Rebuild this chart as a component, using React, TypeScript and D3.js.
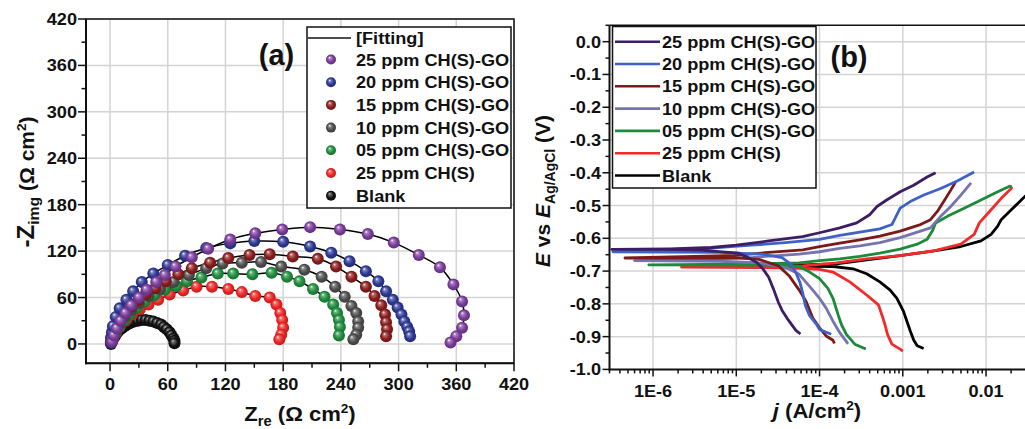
import React from "react";
import * as d3 from "d3";

// ---------- Panel (a) Nyquist data [Zre, -Zimg] ----------
const nyqPurple = [[2,3],[4,11],[7,20],[11,30],[16,40],[22,50],[30,60],[38,70],[48,80],[57,89],[68,100],[85,112],[102,123],[125,135],[151,143],[179,148],[208,151],[239,148],[268,142],[295,131],[321,115],[343,99],[357,77],[366,55],[368,37],[366,21],[360,10],[354,2]];
const nyqBlue = [[1,2],[1,8],[2,15],[3,23],[6,35],[10,46],[17,57],[24,68],[33,80],[45,91],[60,102],[78,114],[100,124],[125,130],[150,133],[180,132],[208,126],[230,118],[249,107],[266,94],[279,81],[287,68],[294,57],[299,47],[303,38],[306,29],[309,22],[311,16],[312,10]];
const nyqDarkRed = [[1,2],[2,8],[4,15],[7,23],[11,31],[16,40],[22,48],[29,56],[37,64],[47,72],[58,81],[71,90],[85,98],[104,105],[123,111],[145,115],[166,116],[190,113],[216,110],[235,100],[251,87],[266,74],[275,62],[282,50],[286,38],[287,28],[288,19],[287,10]];
const nyqGray = [[1,2],[3,9],[6,17],[10,26],[15,35],[22,44],[30,53],[40,62],[52,71],[66,80],[82,89],[100,98],[117,104],[137,105],[157,106],[178,100],[202,96],[220,87],[234,74],[244,61],[251,49],[256,40],[258,29],[258,21],[256,12],[253,6]];
const nyqGreen = [[1,2],[3,8],[6,15],[10,23],[15,31],[21,39],[28,47],[36,55],[46,63],[57,70],[69,75],[80,81],[95,86],[112,91],[128,91],[148,90],[168,92],[184,87],[197,81],[211,71],[223,61],[232,51],[236,40],[238,31],[239,22],[238,11]];
const nyqRed = [[1,2],[3,7],[6,14],[10,22],[16,30],[23,38],[31,45],[40,51],[50,57],[62,64],[76,69],[90,74],[106,74],[123,71],[137,67],[151,62],[166,60],[173,51],[177,40],[179,31],[180,21],[178,12],[176,6]];
const nyqBlank = [[1,0],[2,3],[3,6],[5,10],[7,14],[9,17],[12,20],[15,23],[18,25],[21,27],[25,29],[29,30],[33,31],[37,31],[41,30],[45,29],[49,27],[53,25],[56,22],[59,19],[62,15],[64,11],[66,7],[67,4],[67,1]];

// ---------- Panel (b) Tafel data [j (A/cm2), E (V)] ----------
const tafPurple = [[5.9e-5,-0.892],[5.2e-5,-0.881],[4.1e-5,-0.845],[3.55e-5,-0.82],[3.2e-5,-0.795],[2.8e-5,-0.755],[2.45e-5,-0.719],[2.1e-5,-0.694],[1.76e-5,-0.674],[1.39e-5,-0.659],[1.05e-5,-0.645],[3.7e-6,-0.636],[1.45e-6,-0.634],[3.2e-7,-0.634],[1.6e-6,-0.632],[5e-6,-0.628],[1e-5,-0.621],[2.45e-5,-0.608],[6.25e-5,-0.595],[1e-4,-0.583],[1.75e-4,-0.568],[2.8e-4,-0.553],[4.0e-4,-0.528],[4.9e-4,-0.503],[6.4e-4,-0.483],[9.3e-4,-0.458],[1.35e-3,-0.438],[1.96e-3,-0.413],[2.48e-3,-0.4]];
const tafBlue = [[1.38e-4,-0.893],[1e-4,-0.878],[9.1e-5,-0.861],[7.55e-5,-0.835],[6.75e-5,-0.805],[6.25e-5,-0.765],[5.8e-5,-0.734],[5.2e-5,-0.704],[4.5e-5,-0.679],[3.55e-5,-0.659],[2e-5,-0.648],[6.3e-6,-0.643],[3.3e-7,-0.641],[3.2e-6,-0.635],[6e-6,-0.628],[1.53e-5,-0.621],[3.9e-5,-0.613],[1e-4,-0.603],[1.75e-4,-0.591],[3.05e-4,-0.581],[5.3e-4,-0.571],[7.4e-4,-0.558],[8.5e-4,-0.528],[9.3e-4,-0.508],[1.23e-3,-0.488],[1.79e-3,-0.468],[2.85e-3,-0.448],[4.5e-3,-0.425],[7.2e-3,-0.398]];
const tafDarkRed = [[1.51e-4,-0.921],[1.45e-4,-0.911],[1.2e-4,-0.898],[1e-4,-0.873],[8.3e-5,-0.843],[6.9e-5,-0.793],[5.7e-5,-0.758],[4.3e-5,-0.714],[3.2e-5,-0.684],[1.86e-5,-0.664],[1e-5,-0.66],[4.6e-7,-0.66],[3.2e-6,-0.655],[9.5e-6,-0.652],[2.45e-5,-0.643],[6.3e-5,-0.635],[1e-4,-0.625],[1.75e-4,-0.615],[3.05e-4,-0.605],[5.3e-4,-0.593],[9.3e-4,-0.578],[1.63e-3,-0.558],[2.15e-3,-0.543],[2.6e-3,-0.518],[3.1e-3,-0.488],[3.77e-3,-0.453],[4.3e-3,-0.428]];
const tafSlate = [[2.2e-4,-0.922],[1.75e-4,-0.888],[1.45e-4,-0.853],[1.2e-4,-0.813],[1e-4,-0.783],[8.3e-5,-0.758],[5.7e-5,-0.71],[4e-5,-0.69],[2e-5,-0.675],[6.3e-6,-0.67],[6e-7,-0.668],[3.2e-6,-0.664],[1.6e-5,-0.658],[5.7e-5,-0.648],[1e-4,-0.641],[1.75e-4,-0.631],[3.05e-4,-0.623],[5.3e-4,-0.613],[9.3e-4,-0.598],[1.63e-3,-0.578],[2.15e-3,-0.568],[2.85e-3,-0.533],[3.77e-3,-0.503],[4.98e-3,-0.468],[6.6e-3,-0.431]];
const tafGreen = [[3.6e-4,-0.938],[2.65e-4,-0.923],[2.1e-4,-0.893],[1.83e-4,-0.863],[1.67e-4,-0.833],[1.45e-4,-0.783],[1.26e-4,-0.753],[1e-4,-0.723],[7.6e-5,-0.703],[5.7e-5,-0.686],[2.5e-5,-0.682],[8.9e-7,-0.681],[1e-5,-0.679],[5.7e-5,-0.675],[1e-4,-0.668],[1.75e-4,-0.663],[3.05e-4,-0.655],[5.3e-4,-0.645],[9.3e-4,-0.633],[1.49e-3,-0.618],[1.96e-3,-0.603],[2.26e-3,-0.578],[2.48e-3,-0.553],[3.43e-3,-0.533],[5.46e-3,-0.508],[8.7e-3,-0.483],[1.38e-2,-0.458],[1.92e-2,-0.441],[2.04e-2,-0.443]];
const tafRed = [[1e-3,-0.944],[9.3e-4,-0.938],[7.4e-4,-0.923],[6.55e-4,-0.893],[6.1e-4,-0.863],[5.6e-4,-0.833],[5.1e-4,-0.803],[3.68e-4,-0.773],[2.31e-4,-0.733],[1.45e-4,-0.703],[1e-4,-0.695],[5.7e-5,-0.692],[1.6e-5,-0.689],[2.2e-6,-0.688],[1.6e-5,-0.686],[6.3e-5,-0.684],[1.6e-4,-0.675],[3.68e-4,-0.663],[9.3e-4,-0.653],[2.37e-3,-0.638],[4.98e-3,-0.618],[7.2e-3,-0.588],[8.3e-3,-0.553],[1.15e-2,-0.513],[1.52e-2,-0.478],[2.01e-2,-0.448],[2.04e-2,-0.443]];
const tafBlank = [[1.78e-3,-0.936],[1.49e-3,-0.928],[1.35e-3,-0.91],[1.23e-3,-0.883],[1.12e-3,-0.853],[1.02e-3,-0.823],[8.5e-4,-0.783],[7.05e-4,-0.758],[5.3e-4,-0.733],[3.68e-4,-0.708],[2.53e-4,-0.693],[1.45e-4,-0.686],[2.5e-5,-0.684],[1.6e-4,-0.678],[3.68e-4,-0.666],[9.3e-4,-0.653],[2.37e-3,-0.638],[4.98e-3,-0.625],[8.7e-3,-0.608],[1.15e-2,-0.588],[1.38e-2,-0.563],[1.52e-2,-0.543],[2.01e-2,-0.513],[2.65e-2,-0.483],[3.05e-2,-0.468],[4e-2,-0.44]];

const labels = ["25 ppm CH(S)-GO","20 ppm CH(S)-GO","15 ppm CH(S)-GO","10 ppm CH(S)-GO","05 ppm CH(S)-GO","25 ppm CH(S)","Blank"];
const colorsA = ["#7a3b9b","#2c3794","#8a1c1c","#4d4d4d","#1e8c3c","#ee2424","#111111"];
const colorsB = ["#3d1d63","#3f62c6","#7b1a1a","#7474b2","#1d8a3a","#f42a2a","#000000"];
const dataA = [nyqPurple,nyqBlue,nyqDarkRed,nyqGray,nyqGreen,nyqRed,nyqBlank];
const dataB = [tafPurple,tafBlue,tafDarkRed,tafSlate,tafGreen,tafRed,tafBlank];

const xTicksA = [0,60,120,180,240,300,360,420];
const yTicksA = [0,60,120,180,240,300,360,420];
const xTicksB = [1e-6,1e-5,1e-4,1e-3,1e-2];
const xTickLabelsB = ["1E-6","1E-5","1E-4","0.001","0.01"];
const yTicksB = [0,-0.1,-0.2,-0.3,-0.4,-0.5,-0.6,-0.7,-0.8,-0.9,-1.0];

const FONT = "'Liberation Sans', Arial, sans-serif";

function T({x,y,anchor="start",size=16.5,sx=1.1,rot=0,children,style}:any){
  return <text transform={`translate(${x},${y}) rotate(${rot}) scale(${sx},1)`} textAnchor={anchor}
    fontSize={size} fontWeight="bold" fontFamily={FONT} fill="#111" style={style}>{children}</text>;
}

function shade(c:string,k:number){ return d3.color(c)!.darker(k).formatHex(); }
function light(c:string,k:number){ return d3.interpolateRgb(c,"#ffffff")(k); }

export default function App(){
  // panel a scales
  const xA = d3.scaleLinear().domain([-25,420]).range([86,514]);
  const yA = d3.scaleLinear().domain([-25,420]).range([363.3,19]);
  // panel b scales
  const xB = d3.scaleLog().domain([3e-7,0.1]).range([609.5,1069.3]);
  const yB = d3.scaleLinear().domain([-1.0,0.05]).range([369.4,25.3]);

  const lineA = d3.line<number[]>().x(d=>xA(d[0])).y(d=>yA(d[1])).curve(d3.curveCatmullRom.alpha(0.5));
  const lineB = d3.line<number[]>().x(d=>xB(d[0])).y(d=>yB(d[1]));

  const minorA = d3.range(0,421,30);
  const minorYB = d3.range(-1.0,0.051,0.05);
  const minorXB:number[] = [];
  for (let e=-7;e<=-2;e++) for (let m=1;m<=9;m++){ const v=m*Math.pow(10,e); if (v>=3e-7 && v<=0.1) minorXB.push(v); }

  const order = [6,5,4,3,2,1,0];

  return (
    <svg width={1025} height={429} style={{position:"absolute",left:0,top:0,background:"#fff"}}>
      <defs>
        {colorsA.map((c,i)=>(
          <radialGradient key={i} id={`g${i}`} cx="50%" cy="50%" r="55%" fx="35%" fy="30%">
            <stop offset="0%" stopColor={i===6?"#bbbbbb":"#ffffff"} />
            <stop offset="22%" stopColor={light(c,0.35)} />
            <stop offset="60%" stopColor={c} />
            <stop offset="100%" stopColor={shade(c,0.8)} />
          </radialGradient>
        ))}
        <clipPath id="clipB"><rect x={609.5} y={25.3} width={460} height={344.1}/></clipPath>
        <clipPath id="clipA"><rect x={86} y={19} width={428} height={344.3}/></clipPath>
      </defs>
      <rect x={0} y={0} width={1025} height={429} fill="#fff"/>

      {/* ================= PANEL A ================= */}
      <g>
        {xTicksA.map(t=> <line key={"gx"+t} x1={xA(t)} x2={xA(t)} y1={19} y2={363.3} stroke="#d4d4d4" strokeWidth={1.5}/>)}
        {yTicksA.map(t=> <line key={"gy"+t} x1={86} x2={514} y1={yA(t)} y2={yA(t)} stroke="#d4d4d4" strokeWidth={1.5}/>)}
        <g clipPath="url(#clipA)">
          {order.filter(i=>i!==6).map(i=> <path key={"fa"+i} d={lineA(dataA[i] as any)!} fill="none" stroke="#000" strokeWidth={1.5}/>)}
          {order.map(i=> (
            <g key={"ma"+i}>
              {dataA[i].map((d,k)=> <circle key={k} cx={xA(d[0])} cy={yA(d[1])} r={6} fill={`url(#g${i})`} />)}
            </g>
          ))}
        </g>
        <rect x={86} y={19} width={428} height={344.3} fill="none" stroke="#111" strokeWidth={1.5}/>
        <line x1={86} x2={86} y1={19} y2={364.3} stroke="#111" strokeWidth={2}/>
        <line x1={85} x2={514} y1={363.3} y2={363.3} stroke="#111" strokeWidth={2}/>
        {minorA.map(t=>{ const major = t%60===0; const L = major?8:4.5; return (
          <g key={"ta"+t}>
            <line x1={xA(t)} x2={xA(t)} y1={363.3} y2={363.3+L} stroke="#111" strokeWidth={1.5}/>
            <line x1={86} x2={86-L} y1={yA(t)} y2={yA(t)} stroke="#111" strokeWidth={1.5}/>
          </g>);})}
        {xTicksA.map(t=> <T key={"lxa"+t} x={xA(t)} y={390} anchor="middle">{t}</T>)}
        {yTicksA.map(t=> <T key={"lya"+t} x={77} y={yA(t)+6} anchor="end">{t}</T>)}
        <T x={300} y={421} anchor="middle" size={21} sx={1.05}>
          <tspan>Z</tspan><tspan fontSize={14} dy={5}>re</tspan><tspan dy={-5}> (Ω cm</tspan><tspan fontSize={13} dy={-8}>2</tspan><tspan dy={8}>)</tspan>
        </T>
        <T x={34} y={182} anchor="middle" rot={-90} size={20} sx={1.05}>
          <tspan fontSize={23}>-Z</tspan><tspan fontSize={15} dy={5}>img</tspan><tspan dy={-5}> (Ω cm</tspan><tspan fontSize={13} dy={-8}>2</tspan><tspan dy={8}>)</tspan>
        </T>
        <T x={276.5} y={65} anchor="middle" size={29} sx={1.0}>(a)</T>
        {/* legend a */}
        <rect x={307} y={27} width={204} height={181} fill="#fff" stroke="#111" strokeWidth={1.5}/>
        <line x1={308} x2={351} y1={38} y2={38} stroke="#111" strokeWidth={1.5}/>
        <T x={356} y={44}>[Fitting]</T>
        {labels.map((l,i)=> (
          <g key={"la"+i}>
            <circle cx={331} cy={59.5+i*22.7} r={5} fill={`url(#g${i})`}/>
            <T x={356} y={59.5+i*22.7+6}>{l}</T>
          </g>
        ))}
      </g>

      {/* ================= PANEL B ================= */}
      <g>
        {xTicksB.map(t=> <line key={"gxb"+t} x1={xB(t)} x2={xB(t)} y1={25.3} y2={369.4} stroke="#d4d4d4" strokeWidth={1.5}/>)}
        {yTicksB.slice(0,-1).map(t=> <line key={"gyb"+t} x1={609.5} x2={1025} y1={yB(t)} y2={yB(t)} stroke="#d4d4d4" strokeWidth={1.5}/>)}
        <g clipPath="url(#clipB)">
          {order.map(i=> <path key={"lb"+i} d={lineB(dataB[i] as any)!} fill="none" stroke={colorsB[i]} strokeWidth={2.8} strokeLinejoin="round"/>)}
        </g>
        <line x1={609.5} x2={1025} y1={25.3} y2={25.3} stroke="#111" strokeWidth={1.5}/>
        <line x1={609.5} x2={609.5} y1={25.3} y2={370.4} stroke="#111" strokeWidth={2}/>
        <line x1={608.5} x2={1025} y1={369.4} y2={369.4} stroke="#111" strokeWidth={2}/>
        {minorYB.map((t,k)=>{ const L = k%2===0?7:4; return <line key={"tyb"+k} x1={609.5} x2={609.5-L} y1={yB(t)} y2={yB(t)} stroke="#111" strokeWidth={1.5}/>;})}
        {minorXB.map((t,k)=>{ const major = Math.abs(Math.log10(t)-Math.round(Math.log10(t)))<1e-6; const L = major?7:4; return <line key={"txb"+k} x1={xB(t)} x2={xB(t)} y1={369.4} y2={369.4+L} stroke="#111" strokeWidth={1.5}/>;})}
        {xTicksB.map((t,i)=> <T key={"lxb"+i} x={xB(t)} y={397} anchor="middle">{xTickLabelsB[i]}</T>)}
        {yTicksB.map(t=> <T key={"lyb"+t} x={601} y={yB(t)+6} anchor="end">{t.toFixed(1)}</T>)}
        <T x={817} y={418} anchor="middle" size={21} sx={1.05}>
          <tspan fontStyle="italic">j</tspan><tspan> (A/cm</tspan><tspan fontSize={13} dy={-8}>2</tspan><tspan dy={8}>)</tspan>
        </T>
        <T x={550} y={191} anchor="middle" rot={-90} size={21} sx={1.0}>
          <tspan fontStyle="italic">E</tspan><tspan> vs </tspan><tspan fontStyle="italic">E</tspan><tspan fontSize={14} dy={5}>Ag/AgCl</tspan><tspan dy={-5}> (V)</tspan>
        </T>
        <T x={849} y={67} anchor="middle" size={29} sx={1.0}>(b)</T>
        {/* legend b */}
        <rect x={612.5} y={26.5} width={203.5} height={161.5} fill="#fff" stroke="#111" strokeWidth={1.5}/>
        {labels.map((l,i)=> (
          <g key={"lgb"+i}>
            <line x1={615} x2={660} y1={41.7+i*22.3} y2={41.7+i*22.3} stroke={colorsB[i]} strokeWidth={2.6}/>
            <T x={662} y={41.7+i*22.3+6}>{l}</T>
          </g>
        ))}
      </g>
    </svg>
  );
}
